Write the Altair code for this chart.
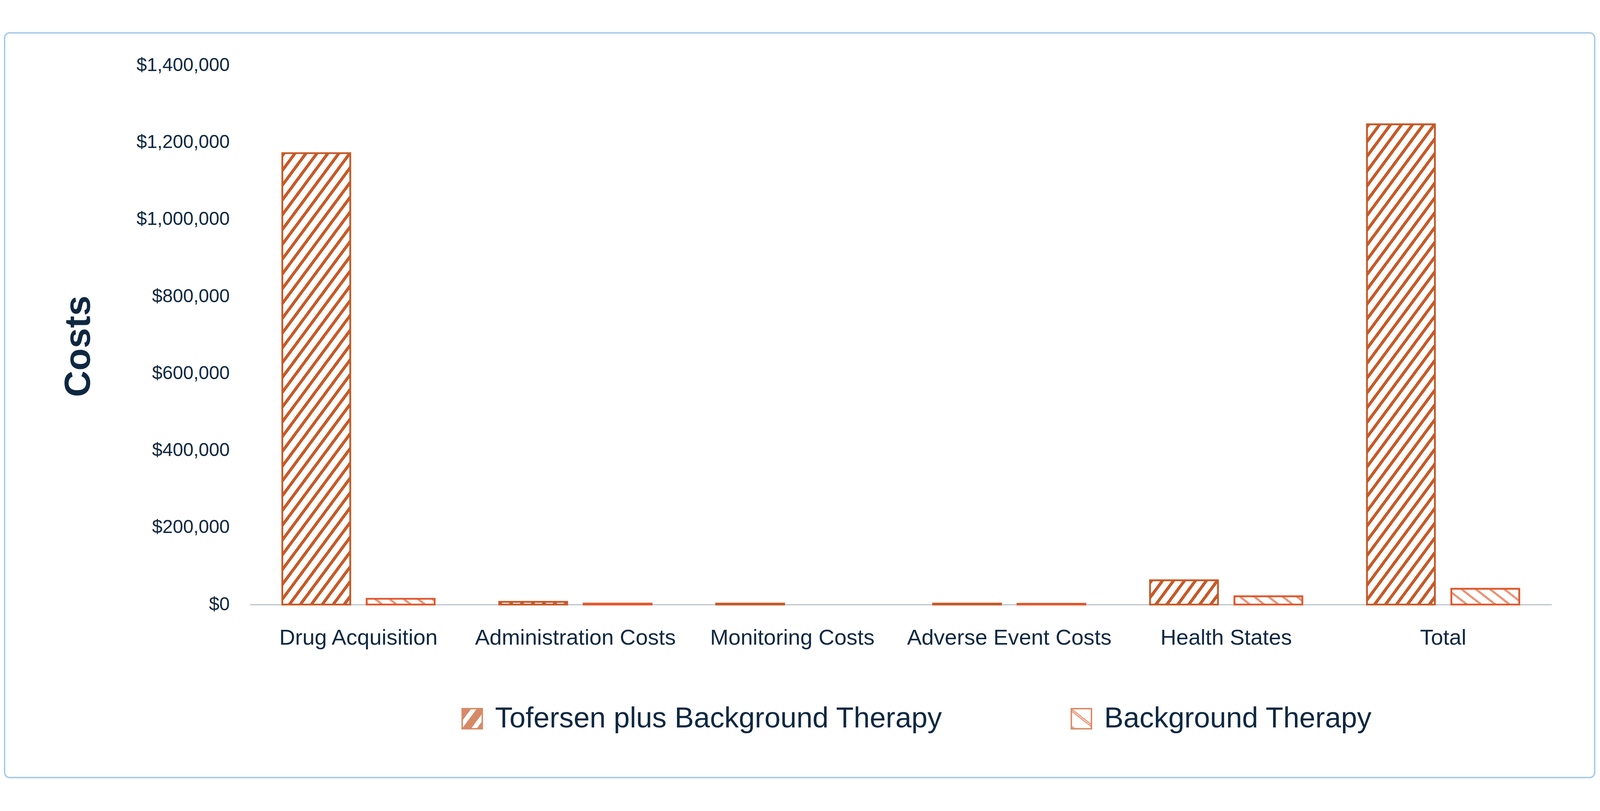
import json
import math
import altair as alt

# ---------------- data ----------------
categories = ["Drug Acquisition", "Administration Costs", "Monitoring Costs",
              "Adverse Event Costs", "Health States", "Total"]
series = ["Tofersen plus Background Therapy", "Background Therapy"]
tofersen_costs = [1172000, 7000, 2500, 2500, 63000, 1247000]
background_costs = [15000, 2500, 0, 2000, 21500, 41000]
y_ticks = [0, 200000, 400000, 600000, 800000, 1000000, 1200000, 1400000]
y_max = 1400000

# ---------------- style / layout ----------------
FONT = "Liberation Sans, Arial, sans-serif"
TEXT = "#0E2841"
C_TOF = "#C65A28"
C_BG = "#E0582C"
PLOT_W = 3564
PLOT_H = 1477
PAD_IN, PAD_OUT = 0.298, 0.149
OFF_PAD = 0.195

step = PLOT_W / (len(categories) - PAD_IN + 2 * PAD_OUT)
band = step * (1 - PAD_IN)
off_step = band / (len(series) - OFF_PAD)
BAR_W = off_step * (1 - OFF_PAD)


def stripes(w, h, k, period, bands, direction):
    """Linear gradient (object bounding box) that draws diagonal stripes."""
    w = max(w, 1.0)
    h = max(h, 1.0)
    c = (k * w + h) / (k * k * w * w + h * h)
    gx, gy = c * k * w, c * h
    if direction == "up":
        x1, y1, x2, y2 = 0, 0, gx, gy
    else:
        x1, y1, x2, y2 = 0, 1, gx, 1 - gy
    n = (k * w + h) / (k * period)
    stops = []
    i = 0
    while i / n < 1:
        base = i / n
        cur = base
        for a, b, col in bands:
            sa, sb = base + a / n, base + b / n
            if sa > cur:
                stops.append((cur, "#FFFFFF"))
                stops.append((sa, "#FFFFFF"))
            stops.append((sa, col))
            stops.append((sb, col))
            cur = sb
        end = (i + 1) / n
        if cur < end:
            stops.append((cur, "#FFFFFF"))
            stops.append((end, "#FFFFFF"))
        i += 1
    out = []
    last = 0.0
    for off, col in stops:
        off = max(min(off, 1.0), last)
        out.append({"offset": round(off, 5), "color": col})
        last = off
    return {"gradient": "linear", "x1": round(x1, 5), "y1": round(y1, 5),
            "x2": round(x2, 5), "y2": round(y2, 5), "stops": out}


TOF_BANDS = [(0.0, 0.34, C_TOF)]
BG_BANDS = [(0.0, 0.06, "#E0603A"), (0.06, 0.14, "#F7B79A"), (0.14, 0.2, "#E0603A")]


def hatch(series_name, value):
    h = value / y_max * PLOT_H
    if series_name == series[0]:
        return stripes(BAR_W, h, 1.35, 30, TOF_BANDS, "up")
    return stripes(BAR_W, h, 0.78, 39, BG_BANDS, "down")


rows = []
for cat, t, b in zip(categories, tofersen_costs, background_costs):
    rows.append({"category": cat, "series": series[0], "value": t, "hatch": hatch(series[0], t)})
    rows.append({"category": cat, "series": series[1], "value": b, "hatch": hatch(series[1], b)})

sw_tof = stripes(55, 55, 1.35, 40, [(0.0, 0.62, C_TOF)], "up")
sw_bg = stripes(55, 55, 0.78, 60, BG_BANDS, "down")

bars = alt.Chart(alt.Data(values=rows)).transform_filter(
    "datum.value > 0"
).mark_bar(strokeWidth=5).encode(
    x=alt.X("category:N", sort=categories, title=None,
            scale=alt.Scale(domain=categories, paddingInner=PAD_IN, paddingOuter=PAD_OUT),
            axis=alt.Axis(labelAngle=0, labelFont=FONT, labelFontSize=60, labelColor=TEXT,
                          labelPadding=62, labelLimit=2000, ticks=False, grid=False,
                          domainColor="#BCC3CC", domainWidth=3)),
    xOffset=alt.XOffset("series:N", sort=series,
                        scale=alt.Scale(domain=series, paddingInner=OFF_PAD, paddingOuter=0)),
    y=alt.Y("value:Q", stack=None,
            scale=alt.Scale(domain=[0, y_max], nice=False),
            axis=alt.Axis(values=y_ticks, format="$,.0f", labelFont=FONT, labelFontSize=51,
                          labelColor=TEXT, labelPadding=56, labelLimit=2000, domain=False,
                          ticks=False, grid=False, title="Costs", titleFont=FONT,
                          titleFontSize=100, titleFontWeight="bold", titleColor=TEXT,
                          titleX=-439, titleY=769, titleBaseline="alphabetic")),
    fill=alt.Fill("hatch:N", scale=None, legend=None),
    stroke=alt.Stroke("series:N", scale=alt.Scale(domain=series, range=[C_TOF, C_BG]),
                      legend=None),
)

legend_layer = alt.Chart(alt.Data(values=[{"series": s} for s in series])).transform_filter(
    "false"
).mark_square().encode(
    fill=alt.Fill("series:N", sort=series,
                  scale=alt.Scale(domain=series,
                                  range=[alt.ExprRef(expr=json.dumps(sw_tof)),
                                         alt.ExprRef(expr=json.dumps(sw_bg))]),
                  legend=alt.Legend(title=None, orient="none", legendX=569, legendY=1750,
                                    direction="horizontal", symbolType="square",
                                    symbolSize=3025, symbolStrokeWidth=4,
                                    symbolStrokeColor=C_TOF,
                                    labelFont=FONT, labelFontSize=79, labelColor=TEXT,
                                    labelOffset=23, labelLimit=3000, columnPadding=340)),
)

border = alt.Chart(alt.Data(values=[{"k": 1}])).mark_rect(
    fill="transparent", stroke="#A7CBEA", strokeWidth=4, cornerRadius=14
).encode(
    x=alt.value(-672), x2=alt.value(3682), y=alt.value(-89), y2=alt.value(1951)
)

chart = alt.layer(border, bars, legend_layer).resolve_scale(
    fill="independent"
).properties(
    width=PLOT_W, height=PLOT_H,
    autosize=alt.AutoSizeParams(type="none"),
    padding={"left": 676, "top": 99, "right": 124, "bottom": 478},
    background="#FFFFFF",
).configure_view(strokeWidth=0)

chart.save("out.html", embed_options={"renderer": "svg", "actions": False})
